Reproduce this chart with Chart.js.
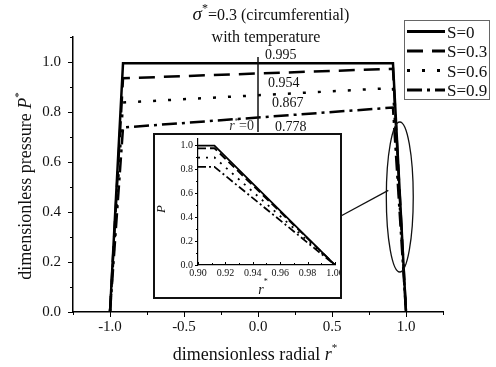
<!DOCTYPE html>
<html>
<head>
<meta charset="utf-8">
<script src="https://cdn.jsdelivr.net/npm/chart.js@4.4.1/dist/chart.umd.min.js"></script>
<style>
  body { margin: 0; background: #fff; }
  #wrap { position: relative; width: 496px; height: 367px; }
  canvas { display: block; }
  #inset-box {
    position: absolute; left: 153px; top: 133px; width: 189px; height: 166px;
    box-sizing: border-box; border: 2px solid #111; background: #fff;
  }
</style>
</head>
<body>
<div id="wrap">
  <canvas id="profile" width="496" height="367"></canvas>
  <div id="inset-box"><canvas id="zoom" width="185" height="162"></canvas></div>
</div>
<script>
// pressure profiles across the disc, one series per S
const seriesNames = ['S=0', 'S=0.3', 'S=0.6', 'S=0.9'];
const radial = [-1.0, -0.912, 0.0, 0.912, 1.0];
const pS0 = [0, 0.995, 0.995, 0.995, 0];
const pS03 = [0, 0.935, 0.954, 0.973, 0];
const pS06 = [0, 0.838, 0.867, 0.896, 0];
const pS09 = [0, 0.738, 0.778, 0.818, 0];
const centreValues = [0.995, 0.954, 0.867, 0.778];

// close-up near the outer edge
const insetR = [0.90, 0.912, 1.0];
const insetS0 = [0.995, 0.995, 0];
const insetS03 = [0.972, 0.973, 0];
const insetS06 = [0.895, 0.896, 0];
const insetS09 = [0.817, 0.818, 0];

const xTickLabels = ['-1.0', '-0.5', '0.0', '0.5', '1.0'];
const yTickLabels = ['0.0', '0.2', '0.4', '0.6', '0.8', '1.0'];
const insetXTickLabels = ['0.90', '0.92', '0.94', '0.96', '0.98', '1.00'];
const insetYTickLabels = ['0.0', '0.2', '0.4', '0.6', '0.8', '1.0'];

const SERIF = '"Liberation Serif", "Times New Roman", serif';
const mainP = [pS0, pS03, pS06, pS09];
const insetP = [insetS0, insetS03, insetS06, insetS09];
const mainDash = [[], [16, 9], [3, 12], [15, 5, 3, 5]];
const insetDash = [[], [8, 4], [2, 6], [8, 3, 2, 3]];

function richText(ctx, parts, x, y, align) {
  let w = 0;
  parts.forEach(p => { ctx.font = p.font; w += ctx.measureText(p.text).width; });
  let cx = align === 'center' ? x - w / 2 : align === 'right' ? x - w : x;
  parts.forEach(p => {
    ctx.font = p.font;
    ctx.fillText(p.text, cx, y + (p.dy || 0));
    cx += ctx.measureText(p.text).width;
  });
}

function pickLabel(list, v) {
  const hit = list.find(s => Math.abs(parseFloat(s) - v) < 1e-6);
  return hit === undefined ? '' : hit;
}

// tick marks drawn by hand so minor ones can be shorter;
// xDir = 1 points the x ticks down (outside), -1 points them up into the plot
function drawTicks(ctx, xs, ys, major, minor, step, xDir) {
  ctx.save();
  ctx.strokeStyle = '#000';
  ctx.lineWidth = 1;
  xs.ticks.forEach(t => {
    if (Math.abs(t.value / step - Math.round(t.value / step)) > 1e-6) return;
    const px = Math.round(xs.getPixelForValue(t.value)) + 0.5;
    const len = t.label ? major : minor;
    ctx.beginPath(); ctx.moveTo(px, ys.bottom); ctx.lineTo(px, ys.bottom + xDir * len); ctx.stroke();
  });
  ys.ticks.forEach(t => {
    if (Math.abs(t.value * 10 - Math.round(t.value * 10)) > 1e-6) return;
    const py = Math.round(ys.getPixelForValue(t.value)) + 0.5;
    const len = t.label ? major : minor;
    ctx.beginPath(); ctx.moveTo(xs.left, py); ctx.lineTo(xs.left - len, py); ctx.stroke();
  });
  ctx.restore();
}

const profileDecor = {
  id: 'profileDecor',
  afterDraw(chart) {
    const { ctx, scales: { x, y } } = chart;
    drawTicks(ctx, x, y, 5, 3, 0.25, 1);
    ctx.save();
    ctx.fillStyle = '#111';
    ctx.textBaseline = 'alphabetic';

    // title
    richText(ctx, [
      { text: 'σ', font: 'italic 19px ' + SERIF },
      { text: '*', font: '12px ' + SERIF, dy: -8 },
      { text: '=0.3 (circumferential)', font: '16px ' + SERIF }
    ], 271, 20, 'center');
    richText(ctx, [{ text: 'with temperature', font: '16px ' + SERIF }], 266, 42, 'center');

    // axis titles
    richText(ctx, [
      { text: 'dimensionless radial ', font: '18px ' + SERIF },
      { text: 'r', font: 'italic 18px ' + SERIF },
      { text: '*', font: '11px ' + SERIF, dy: -9 }
    ], 255, 360, 'center');
    ctx.save();
    ctx.translate(31, 186);
    ctx.rotate(-Math.PI / 2);
    richText(ctx, [
      { text: 'dimensionless pressure ', font: '18px ' + SERIF },
      { text: 'P', font: 'italic 18px ' + SERIF },
      { text: '*', font: '11px ' + SERIF, dy: -9 }
    ], 0, 0, 'center');
    ctx.restore();

    // marker at the disc centre
    const x0 = x.getPixelForValue(0);
    ctx.strokeStyle = '#111';
    ctx.lineWidth = 1.5;
    ctx.beginPath();
    ctx.moveTo(x0, y.getPixelForValue(1.02));
    ctx.lineTo(x0, y.getPixelForValue(0.72));
    ctx.stroke();

    const labelDx = [7, 10, 14, 17];
    const labelDy = [-4.5, 13.3, 11.6, 13.4];
    ctx.font = '14px ' + SERIF;
    centreValues.forEach((v, i) => {
      ctx.fillText(v.toFixed(3), x0 + labelDx[i], y.getPixelForValue(v) + labelDy[i]);
    });
    ctx.fillStyle = '#333';
    richText(ctx, [
      { text: 'r', font: 'italic 14px ' + SERIF },
      { text: '*', font: '9px ' + SERIF, dy: -6 },
      { text: '=0', font: '14px ' + SERIF }
    ], x0 - 4, y.getPixelForValue(0.778) + 12.5, 'right');

    // ellipse around the outer edge and its leader to the close-up
    const cx = x.getPixelForValue(0.958), cy = y.getPixelForValue(0.46);
    const rx = x.getPixelForValue(0.958 + 0.091) - cx;
    const ry = cy - y.getPixelForValue(0.46 + 0.30);
    ctx.strokeStyle = '#111';
    ctx.lineWidth = 1.3;
    ctx.beginPath();
    ctx.ellipse(cx, cy, rx, ry, 0, 0, Math.PI * 2);
    ctx.stroke();
    const t = Math.PI + 0.55;
    ctx.beginPath();
    ctx.moveTo(x.getPixelForValue(0.56), y.getPixelForValue(0.384));
    ctx.lineTo(cx + rx * Math.cos(t), cy + ry * Math.sin(t) * 0.17);
    ctx.stroke();

    // legend
    ctx.strokeStyle = '#666';
    ctx.lineWidth = 1;
    ctx.strokeRect(404.5, 20.5, 85, 79);
    ctx.fillStyle = '#111';
    ctx.font = '17px ' + SERIF;
    chart.data.datasets.forEach((ds, i) => {
      const ly = 31.5 + i * 19.5;
      ctx.strokeStyle = '#000';
      ctx.lineWidth = 3;
      ctx.setLineDash(ds.borderDash);
      ctx.beginPath(); ctx.moveTo(407, ly); ctx.lineTo(445, ly); ctx.stroke();
      ctx.setLineDash([]);
      ctx.fillText(ds.label, 447, ly + 6);
    });
    ctx.restore();
  }
};

new Chart(document.getElementById('profile'), {
  type: 'scatter',
  data: {
    datasets: seriesNames.map((name, i) => ({
      label: name,
      data: radial.map((r, k) => ({ x: r, y: mainP[i][k] })),
      showLine: true,
      borderColor: '#000',
      borderWidth: 2.5,
      borderDash: mainDash[i],
      pointRadius: 0,
      clip: false
    }))
  },
  options: {
    responsive: false,
    animation: false,
    devicePixelRatio: 1,
    layout: { padding: { top: 37, right: 53, left: 0, bottom: 0 } },
    plugins: { legend: { display: false }, tooltip: { enabled: false } },
    scales: {
      x: {
        type: 'linear', min: -1.25, max: 1.25,
        grid: { drawOnChartArea: false, drawTicks: false },
        border: { color: '#000', width: 1.5 },
        ticks: {
          stepSize: 0.25, autoSkip: false, maxRotation: 0, padding: 6,
          color: '#111', font: { family: SERIF, size: 15 },
          callback: v => pickLabel(xTickLabels, v)
        },
        afterFit: s => { s.height = 55; s.paddingLeft = 0; s.paddingRight = 0; }
      },
      y: {
        min: 0, max: 1.1,
        grid: { drawOnChartArea: false, drawTicks: false },
        border: { color: '#000', width: 1.5 },
        ticks: {
          stepSize: 0.1, autoSkip: false, padding: 12,
          color: '#111', font: { family: SERIF, size: 15 },
          callback: v => pickLabel(yTickLabels, v)
        },
        afterFit: s => { s.width = 73; s.paddingTop = 0; s.paddingBottom = 0; }
      }
    }
  },
  plugins: [profileDecor]
});

const insetDecor = {
  id: 'insetDecor',
  afterDraw(chart) {
    const { ctx, scales: { x, y } } = chart;
    drawTicks(ctx, x, y, 3, 2, 0.01, -1);
    ctx.save();
    ctx.fillStyle = '#111';
    richText(ctx, [
      { text: 'r', font: 'italic 14px ' + SERIF },
      { text: '*', font: '8px ' + SERIF, dy: -10 }
    ], 108, 159, 'center');
    ctx.translate(10, 72);
    ctx.rotate(-Math.PI / 2);
    richText(ctx, [
      { text: 'P', font: 'italic 13px ' + SERIF },
      { text: '*', font: '8px ' + SERIF, dy: -9 }
    ], 0, 0, 'center');
    ctx.restore();
  }
};

new Chart(document.getElementById('zoom'), {
  type: 'scatter',
  data: {
    datasets: seriesNames.map((name, i) => ({
      label: name,
      data: insetR.map((r, k) => ({ x: r, y: insetP[i][k] })),
      showLine: true,
      borderColor: '#000',
      borderWidth: 1.8,
      borderDash: insetDash[i],
      pointRadius: 0
    }))
  },
  options: {
    responsive: false,
    animation: false,
    devicePixelRatio: 1,
    layout: { padding: { top: 4, right: 5, left: 0, bottom: 0 } },
    plugins: { legend: { display: false }, tooltip: { enabled: false } },
    scales: {
      x: {
        type: 'linear', min: 0.9, max: 1.0,
        grid: { drawOnChartArea: false, drawTicks: false },
        border: { color: '#000', width: 1.2 },
        ticks: {
          stepSize: 0.01, autoSkip: false, maxRotation: 0, padding: 2,
          color: '#111', font: { family: SERIF, size: 10 },
          callback: v => pickLabel(insetXTickLabels, v)
        },
        afterFit: s => { s.height = 32; s.paddingLeft = 0; s.paddingRight = 0; }
      },
      y: {
        min: 0, max: 1.05,
        grid: { drawOnChartArea: false, drawTicks: false },
        border: { color: '#000', width: 1.2 },
        ticks: {
          stepSize: 0.1, autoSkip: false, padding: 5, includeBounds: false,
          color: '#111', font: { family: SERIF, size: 10 },
          callback: v => pickLabel(insetYTickLabels, v)
        },
        afterFit: s => { s.width = 43; s.paddingTop = 0; s.paddingBottom = 0; }
      }
    }
  },
  plugins: [insetDecor]
});
</script>
</body>
</html>
